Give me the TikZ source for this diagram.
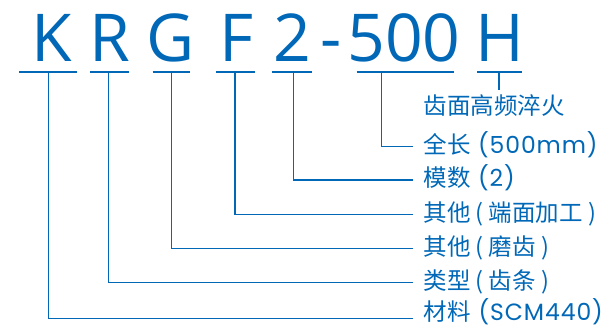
\documentclass[tikz,border=0pt]{standalone}
\usepackage{fontspec}
\setmainfont{Open Sans}
\newfontfamily\cjk{Noto Sans CJK SC}
\newfontfamily\lat[LetterSpace=4]{Poppins}
\definecolor{kblue}{RGB}{0,104,183}
\begin{document}
\begin{tikzpicture}[x=1pt,y=-1pt,
  big/.style={font=\fontsize{66}{66}\selectfont, text=kblue, inner sep=0pt, anchor=base},
  uline/.style={draw=kblue, line width=2.4pt},
  conn/.style={draw=kblue, line width=1.3pt},
  lab/.style={font=\cjk\fontsize{23.5}{24}\selectfont, text=kblue, inner sep=0pt, anchor=west, text height=14pt, text depth=0pt}]
\useasboundingbox (0,0) rectangle (608,328);
% code letters
\node[big] (K) at (51.5,62) {K};
\node[big] (R) at (110,62) {R};
\node[big] (G) at (171,62) {G};
\node[big] (F) at (237,62) {F};
\node[big] (two) at (292.3,62) {2};
\node[big] (dash) at (331,62) {-};
\node[big] (five) at (404,62) {500};
\node[big] (H) at (500,62) {H};
% underlines
\draw[uline] (19.3,72.3) -- (76.7,72.3);
\draw[uline] (90,72.3) -- (129,72.3);
\draw[uline] (152.7,72.3) -- (190,72.3);
\draw[uline] (216,72.3) -- (255,72.3);
\draw[uline] (271.7,72.3) -- (312.3,72.3);
\draw[uline] (356.7,72.3) -- (454.3,72.3);
\draw[uline] (477.3,72.3) -- (522.3,72.3);
\coordinate (uK) at (48.3,72.3);
\coordinate (uR) at (108.3,72.3);
\coordinate (uG) at (171.7,72.3);
\coordinate (uF) at (235,72.3);
\coordinate (u2) at (293.3,72.3);
\coordinate (u5) at (381.7,72.3);
\coordinate (uH) at (499,72.3);
\coordinate (hEnd) at (499,90);
% labels
\node[lab] (lH) at (423.3,108) {齿面高频淬火};
\node[lab] (l5) at (423.3,146.7) {全长\hspace{7.5pt}{\lat(500mm)}};
\node[lab] (l2) at (423.3,180) {模数\hspace{7.5pt}{\lat(2)}};
\node[lab] (lF) at (423.3,214.5) {其他 ( 端面加工 )};
\node[lab] (lG) at (423.3,248.3) {其他 ( 磨齿 )};
\node[lab] (lR) at (423.3,282.7) {类型 ( 齿条 )};
\node[lab, text height=5pt] (lK) at (423.3,318.3) {材料\hspace{8pt}{\lat(SCM440)}};
% connectors
\draw[conn] (uH) -- (hEnd);
\draw[conn] (u5) |- ([xshift=-10.3pt]l5.west);
\draw[conn] (u2) |- ([xshift=-10.3pt]l2.west);
\draw[conn] (uF) |- ([xshift=-10.3pt]lF.west);
\draw[conn] (uG) |- ([xshift=-10.3pt]lG.west);
\draw[conn] (uR) |- ([xshift=-10.3pt]lR.west);
\draw[conn] (uK) |- ([xshift=-10.3pt]lK.west);
\end{tikzpicture}
\end{document}
